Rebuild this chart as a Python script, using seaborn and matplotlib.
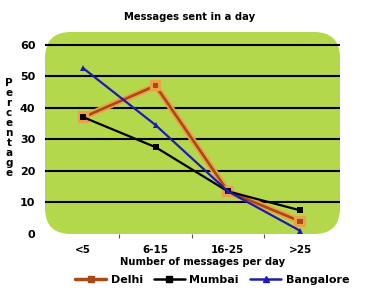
import matplotlib
matplotlib.use("Agg")
import matplotlib.pyplot as plt
import matplotlib.patheffects as pe
from matplotlib.patches import FancyBboxPatch
from matplotlib.lines import Line2D
import seaborn as sns
import pandas as pd

categories = ["<5", "6-15", "16-25", ">25"]
delhi = [37, 47, 13.5, 4]
mumbai = [37, 27.5, 13.5, 7.5]
bangalore = [52.5, 34.5, 13.5, 1]
cities = ["Delhi", "Mumbai", "Bangalore"]
yticks = [0, 10, 20, 30, 40, 50, 60]

df = pd.DataFrame({
    "cat": categories * 3,
    "x": list(range(len(categories))) * 3,
    "value": delhi + mumbai + bangalore,
    "city": [c for c in cities for _ in categories],
})

sns.set_theme(style="white")
plt.rcParams['font.family'] = ['DejaVu Sans']
plt.rcParams['text.color'] = 'black'
plt.rcParams['xtick.color'] = 'black'
plt.rcParams['ytick.color'] = 'black'

fig = plt.figure(figsize=(3.7, 2.98), dpi=100)
ax = fig.add_axes([45/370, (298-234)/298, (340-45)/370, (234-32)/298])
ax.set_facecolor("none")

bg = FancyBboxPatch((45/370, (298-234)/298), (340-45)/370, (234-32)/298,
                    boxstyle="round,pad=0,rounding_size=0.07",
                    mutation_aspect=370/298,
                    transform=fig.transFigure, facecolor="#b4d84c",
                    edgecolor="none", zorder=0, clip_on=False)
ax.add_patch(bg)

palette = {"Delhi": "#a84a14", "Mumbai": "#000000", "Bangalore": "#1c1cb0"}
markers = {"Delhi": "s", "Mumbai": "s", "Bangalore": "^"}
sns.lineplot(data=df, x="x", y="value", hue="city", style="city",
             palette=palette, markers=markers, dashes=False, ax=ax,
             linewidth=1.6, markersize=4, markeredgewidth=0, legend=False,
             zorder=3)
for line in ax.get_lines():
    if line.get_color() == "#a84a14":
        line.set_linewidth(1.9)
        line.set_path_effects([pe.Stroke(linewidth=4.5, foreground="#eda04a"), pe.Normal()])

for y in yticks[1:]:
    ax.axhline(y, color="black", linewidth=1.5, zorder=1)

ax.set_xlim(-0.53, 3.55)
ax.set_ylim(0, 64)
for s in ax.spines.values():
    s.set_visible(False)

ax.set_yticks(yticks)
ax.set_yticklabels([str(v) for v in yticks], fontsize=8, fontweight="bold")
ax.tick_params(axis="y", length=0, pad=7)

ax.set_xticks(range(len(categories)))
ax.set_xticklabels(categories, fontsize=7.5, fontweight="bold")
ax.set_xticks([0.5, 1.5, 2.5], minor=True)
ax.tick_params(axis="x", which="major", length=0, pad=8)
ax.tick_params(axis="x", which="minor", length=3, width=0.8, color="#555555", bottom=True, direction="out", pad=0)
ax.set_xlabel("")
ax.set_ylabel("")

fig.text(190/370, 1 - 17/298, "Messages sent in a day", ha="center", va="center",
         fontsize=7.2, fontweight="bold")
fig.text(203/370, 1 - 262/298, "Number of messages per day", ha="center", va="center",
         fontsize=7.2, fontweight="bold")
fig.text(9/370, 1 - 128/298, "\n".join("Percentage"), ha="center", va="center",
         fontsize=7.5, fontweight="bold", linespacing=1.0)

handles = [Line2D([], [], color=palette[c], marker=markers[c], markersize=4,
                  linewidth=2.5 if c == "Delhi" else 1.8) for c in cities]
fig.legend(handles, cities, loc="center", bbox_to_anchor=(212/370, 1 - 280/298),
           ncol=3, frameon=False, prop={"weight": "bold", "size": 8},
           handlelength=2.8, columnspacing=1.0, handletextpad=0.4)

fig.savefig("out.png", dpi=100)
